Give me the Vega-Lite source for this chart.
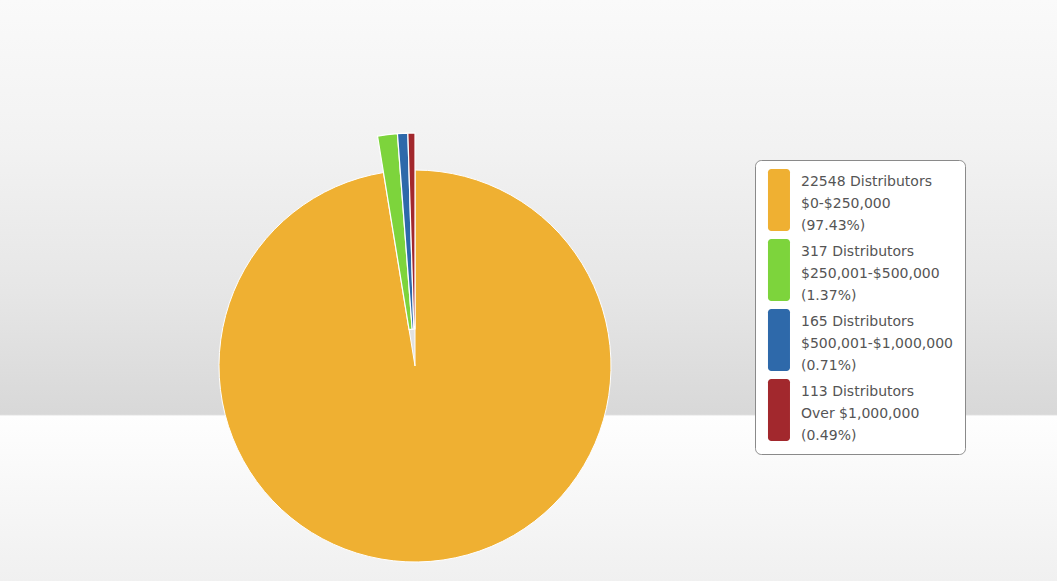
{
  "$schema": "https://vega.github.io/schema/vega-lite/v6.json",
  "width": 1284,
  "height": 732,
  "autosize": {"type": "none"},
  "padding": {"left": -227, "top": 0, "right": 0, "bottom": -151},
  "background": "#ececec",
  "view": {
    "stroke": null,
    "fill": {"expr": "{gradient: 'linear', x1: 0, y1: 0, x2: 0, y2: 1, stops: [{offset: 0, color: '#fafafa'}, {offset: 0.2, color: '#f2f2f2'}, {offset: 0.4, color: '#e6e6e6'}, {offset: 0.566, color: '#d8d8d8'}, {offset: 0.5685, color: '#fefefe'}, {offset: 0.794, color: '#f0f0f0'}, {offset: 1, color: '#ececec'}]}"}
  },
  "config": {
    "style": {"guide-label": {"lineHeight": 22}}
  },
  "data": {
    "values": [
      {"distributors": 22548, "group": "22548 Distributors\n$0-$250,000\n(97.43%)"},
      {"distributors": 317, "group": "317 Distributors\n$250,001-$500,000\n(1.37%)"},
      {"distributors": 165, "group": "165 Distributors\n$500,001-$1,000,000\n(0.71%)"},
      {"distributors": 113, "group": "113 Distributors\nOver $1,000,000\n(0.49%)"}
    ]
  },
  "encoding": {
    "theta": {"field": "distributors", "type": "quantitative", "stack": true},
    "order": {"field": "distributors", "sort": "descending"},
    "color": {
      "field": "group",
      "type": "nominal",
      "sort": {"field": "distributors", "order": "descending"},
      "scale": {"range": ["#efb032", "#7dd43c", "#2e69aa", "#a2282d"]},
      "legend": {
        "orient": "none",
        "legendX": 982,
        "legendY": 160,
        "title": null,
        "symbolType": "M-0.52,-1.18H0.88A0.3,0.3 0 0 1 1.18,-0.88V4.15A0.3,0.3 0 0 1 0.88,4.45H-0.52A0.3,0.3 0 0 1 -0.82,4.15V-0.88A0.3,0.3 0 0 1 -0.52,-1.18Z",
        "symbolSize": 484,
        "symbolStrokeWidth": 0,
        "symbolOpacity": 1,
        "labelExpr": "split(datum.label, '\\n')",
        "labelFont": "DejaVu Sans",
        "labelFontSize": 14,
        "labelColor": "#555555",
        "labelOffset": 13,
        "labelLimit": 250,
        "rowPadding": 6,
        "padding": 11,
        "strokeColor": "#8a8a8a",
        "fillColor": "#ffffff",
        "cornerRadius": 6
      }
    }
  },
  "layer": [
    {
      "mark": {"type": "arc", "radius": 196, "stroke": "#ffffff", "strokeWidth": 1},
      "encoding": {
        "opacity": {"condition": {"test": "datum.distributors > 1000", "value": 1}, "value": 0}
      }
    },
    {
      "mark": {"type": "arc", "radius": 233, "radius2": 37, "stroke": "#ffffff", "strokeWidth": 1.2},
      "encoding": {
        "opacity": {"condition": {"test": "datum.distributors > 1000", "value": 0}, "value": 1}
      }
    }
  ]
}
